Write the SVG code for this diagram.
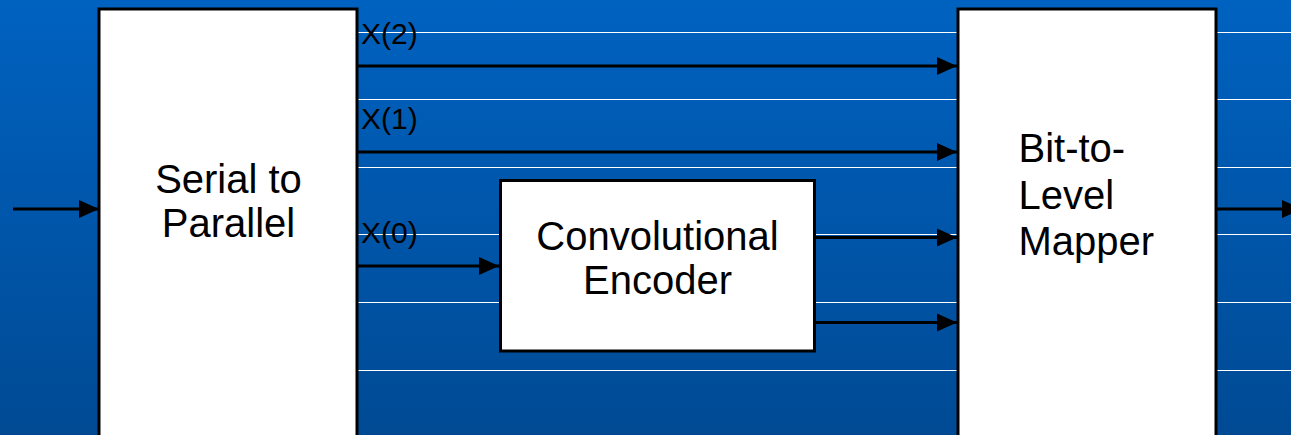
<svg xmlns="http://www.w3.org/2000/svg" width="1291" height="435" viewBox="0 0 1291 435">
  <defs>
    <linearGradient id="bg" x1="0" y1="0" x2="0" y2="1">
      <stop offset="0" stop-color="#0062c0"/>
      <stop offset="1" stop-color="#004a94"/>
    </linearGradient>
    <marker id="head" markerUnits="userSpaceOnUse" markerWidth="20" markerHeight="20" viewBox="0 0 20 20" refX="20" refY="10" orient="auto">
      <path d="M0,1 L20,10 L0,19 Z" fill="#000"/>
    </marker>
    <style>
      .block { fill: #fff; stroke: #000; stroke-width: 3; }
      .label { font-family: "Liberation Sans", Arial, sans-serif; font-size: 40px; fill: #000; }
      .port { font-family: "Liberation Sans", Arial, sans-serif; font-size: 30px; fill: #000; }
      .wire { stroke: #000; stroke-width: 3; fill: none; marker-end: url(#head); }
      .rule { stroke: #fff; stroke-width: 1; }
    </style>
  </defs>

  <!-- slide background -->
  <rect x="0" y="0" width="1291" height="435" fill="url(#bg)"/>
  <g id="rules">
    <line class="rule" x1="358" y1="32.5" x2="1291" y2="32.5"/>
    <line class="rule" x1="358" y1="99.5" x2="1291" y2="99.5"/>
    <line class="rule" x1="358" y1="167.5" x2="1291" y2="167.5"/>
    <line class="rule" x1="358" y1="234.5" x2="1291" y2="234.5"/>
    <line class="rule" x1="358" y1="302.5" x2="1291" y2="302.5"/>
    <line class="rule" x1="358" y1="370.5" x2="1291" y2="370.5"/>
  </g>

  <!-- signal paths -->
  <g id="connectors">
    <line class="wire" x1="13" y1="209" x2="99" y2="209"/>
    <line class="wire" x1="358" y1="66" x2="957" y2="66"/>
    <line class="wire" x1="358" y1="152" x2="957" y2="152"/>
    <line class="wire" x1="358" y1="266" x2="499" y2="266"/>
    <line class="wire" x1="816" y1="237.5" x2="957" y2="237.5"/>
    <line class="wire" x1="816" y1="322.5" x2="957" y2="322.5"/>
    <line class="wire" x1="1217" y1="209" x2="1302" y2="209"/>
  </g>

  <g id="port-labels">
    <text class="port" x="361" y="43.5">X(2)</text>
    <text class="port" x="361" y="128.5">X(1)</text>
    <text class="port" x="361" y="243">X(0)</text>
  </g>

  <g id="serial-to-parallel">
    <rect class="block" x="99" y="9" width="258" height="440"/>
    <text class="label" x="228.5" y="193" text-anchor="middle">Serial to</text>
    <text class="label" x="228.5" y="237" text-anchor="middle">Parallel</text>
  </g>

  <g id="convolutional-encoder">
    <rect class="block" x="500.5" y="180.5" width="314" height="170.5"/>
    <text class="label" x="657.5" y="250" text-anchor="middle">Convolutional</text>
    <text class="label" x="657.5" y="294" text-anchor="middle">Encoder</text>
  </g>

  <g id="bit-to-level-mapper">
    <rect class="block" x="958" y="9" width="258" height="440"/>
    <text class="label" x="1018.5" y="162">Bit-to-</text>
    <text class="label" x="1018.5" y="208.5">Level</text>
    <text class="label" x="1018.5" y="255">Mapper</text>
  </g>
</svg>
